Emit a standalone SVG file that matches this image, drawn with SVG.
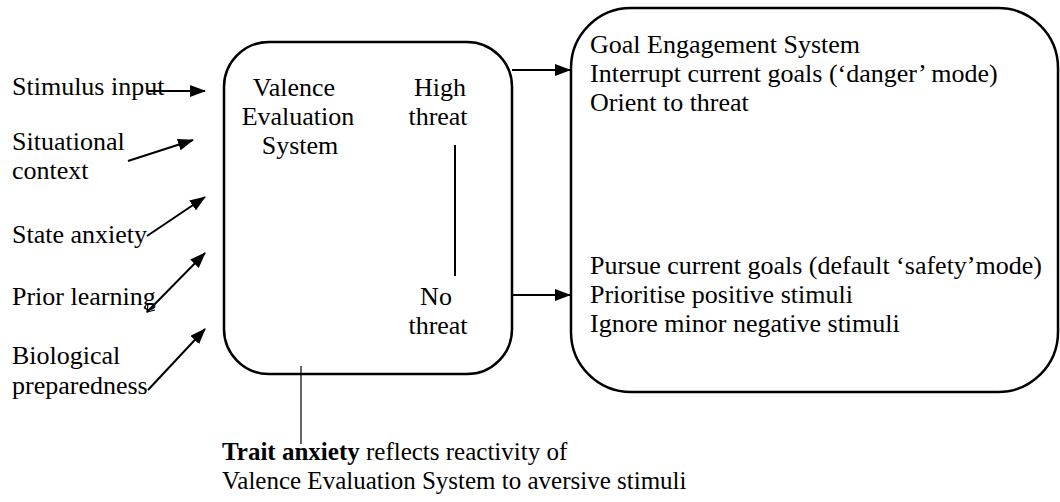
<svg xmlns="http://www.w3.org/2000/svg" width="1060" height="502" viewBox="0 0 1060 502">
<style>
text{font-family:'Liberation Serif','Times New Roman',Tinos,'DejaVu Serif',serif;font-size:26px;fill:#000}
.c{text-anchor:middle}
.box{fill:none;stroke:#000;stroke-width:2.5}
.ln{fill:none;stroke:#000;stroke-width:2}
.thin{fill:none;stroke:#000;stroke-width:1.2}
</style>
<defs>
<marker id="ah" markerWidth="16" markerHeight="12" refX="15" refY="6" orient="auto" markerUnits="userSpaceOnUse">
<path d="M0,0 L16,6 L0,12 Z" fill="#000"/>
</marker>
</defs>
<rect width="1060" height="502" fill="#fff"/>
<g id="inputs">
<text x="12" y="95">Stimulus input</text>
<text x="12" y="150">Situational</text>
<text x="12" y="179">context</text>
<text x="12" y="243">State anxiety</text>
<text x="12" y="305">Prior learning</text>
<text x="12" y="364">Biological</text>
<text x="12" y="394">preparedness</text>
</g>
<g id="valence">
<rect class="box" x="224" y="42" width="288" height="332" rx="45"/>
<text class="c" x="294" y="96">Valence</text>
<text class="c" x="298" y="125">Evaluation</text>
<text class="c" x="300" y="154">System</text>
<text class="c" x="440" y="96">High</text>
<text class="c" x="438" y="125">threat</text>
<text class="c" x="436" y="305">No</text>
<text class="c" x="438" y="334">threat</text>
</g>
<g id="goal">
<rect class="box" x="571" y="8" width="487" height="384" rx="60"/>
<text x="590" y="53">Goal Engagement System</text>
<text x="590" y="82">Interrupt current goals (‘danger’ mode)</text>
<text x="590" y="111">Orient to threat</text>
<text x="590" y="274">Pursue current goals (default ‘safety’mode)</text>
<text x="590" y="303">Prioritise positive stimuli</text>
<text x="590" y="332">Ignore minor negative stimuli</text>
</g>
<g id="trait">
<text x="222" y="460" style="font-size:25px"><tspan font-weight="bold">Trait anxiety</tspan> reflects reactivity of</text>
<text x="222" y="489" style="font-size:25px">Valence Evaluation System to aversive stimuli</text>
</g>
<g id="connectors">
<line class="ln" x1="147" y1="91" x2="205" y2="91" marker-end="url(#ah)"/>
<line class="ln" x1="128" y1="161" x2="193" y2="140" marker-end="url(#ah)"/>
<line class="ln" x1="147" y1="236" x2="205" y2="197" marker-end="url(#ah)"/>
<line class="ln" x1="147" y1="312" x2="205" y2="253" marker-end="url(#ah)"/>
<polyline class="thin" points="148,304 147,312 155,310"/>
<line class="ln" x1="148" y1="390" x2="205" y2="329" marker-end="url(#ah)"/>
<line class="ln" x1="455" y1="145" x2="455" y2="276"/>
<line class="ln" x1="512" y1="70" x2="570" y2="70" marker-end="url(#ah)"/>
<line class="ln" x1="512" y1="295" x2="570" y2="295" marker-end="url(#ah)"/>
<line class="thin" x1="301" y1="366" x2="301" y2="444"/>
</g>
</svg>
